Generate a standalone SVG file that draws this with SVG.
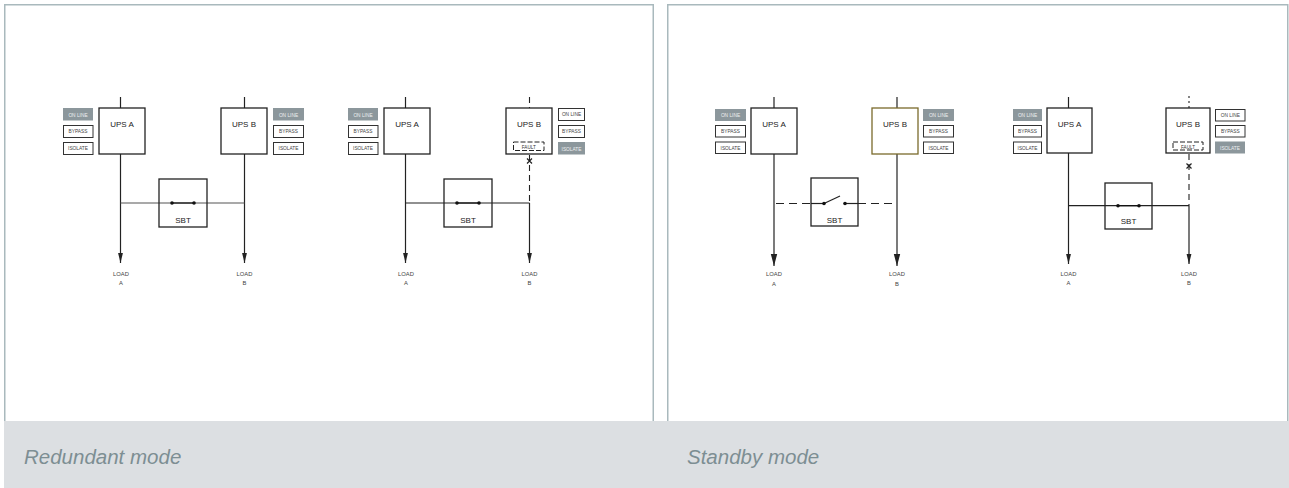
<svg xmlns="http://www.w3.org/2000/svg" width="1289" height="488" viewBox="0 0 1289 488">
<style>
.panel{fill:#fff;stroke:#a9b9bd;stroke-width:1.5}
.band{fill:#dcdfe2}
.cap{font-family:"Liberation Sans",Arial,sans-serif;font-style:italic;font-size:20.5px;fill:#7d8e93}
.box{fill:none;stroke:#222;stroke-width:1.3}
.boxy{fill:none;stroke:#7a6a2c;stroke-width:1.3}
.btn{fill:#fff;stroke:#333;stroke-width:1}
.on{fill:#8c979c;stroke:none}
.t{font-family:"Liberation Sans",Arial,sans-serif;fill:#222;text-anchor:middle}
.lbl{font-size:8px}
.bt{font-size:4.8px;fill:#444}
.btw{font-size:4.8px;fill:#eef0f1}
.ld{font-size:5.8px;fill:#444}
.ft{font-size:4.6px;fill:#333}
.w{stroke:#222;stroke-width:1.2;fill:none}
.wg{stroke:#555;stroke-width:1.2;fill:none}
.d{stroke:#222;stroke-width:1.1;fill:none;stroke-dasharray:6 4}
.dt{stroke:#222;stroke-width:1.1;fill:none;stroke-dasharray:2 3}
.fb{fill:none;stroke:#222;stroke-width:1;stroke-dasharray:5 2}
.sw{stroke:#111;stroke-width:1.2}
.dot{fill:#111}
</style>
<defs>
<marker id="arr" markerUnits="userSpaceOnUse" markerWidth="10" markerHeight="6" viewBox="0 0 10 6" refX="10" refY="3" orient="auto"><path d="M0,0.6 L10,3 L0,5.4 z" fill="#222"/></marker>
<marker id="arrL" markerUnits="userSpaceOnUse" markerWidth="12" markerHeight="8" viewBox="0 0 12 8" refX="12" refY="4" orient="auto"><path d="M0,0.8 L12,4 L0,7.2 z" fill="#222"/></marker>
</defs>

<g id="panels">
<rect class="panel" x="4.75" y="4.75" width="648.5" height="430"/>
<rect class="panel" x="667.75" y="4.75" width="620" height="430"/>
<rect class="band" x="4" y="421" width="1285" height="67"/>
<text class="cap" x="24" y="464">Redundant mode</text>
<text class="cap" x="687" y="464">Standby mode</text>
</g>

<g id="connectors">
<line class="w" x1="120.5" y1="97" x2="120.5" y2="108"/>
<line class="w" x1="120.5" y1="154" x2="120.5" y2="263" marker-end="url(#arr)"/>
<line class="w" x1="244.5" y1="97" x2="244.5" y2="108"/>
<line class="w" x1="244.5" y1="154" x2="244.5" y2="263" marker-end="url(#arr)"/>
<line class="wg" x1="120.5" y1="203" x2="244.5" y2="203"/>
<line class="w" x1="405.5" y1="97" x2="405.5" y2="108"/>
<line class="w" x1="405.5" y1="154" x2="405.5" y2="263" marker-end="url(#arr)"/>
<line class="d" x1="529.5" y1="97" x2="529.5" y2="108"/>
<line class="d" x1="529.5" y1="155" x2="529.5" y2="203"/>
<line class="w" x1="529.5" y1="203" x2="529.5" y2="263" marker-end="url(#arr)"/>
<line class="w" x1="405.5" y1="203" x2="529.5" y2="203"/>
<path class="w" d="M527,158.5 L532,163.5 M532,158.5 L527,163.5"/>
<line class="w" x1="774" y1="97" x2="774" y2="108"/>
<line class="w" x1="774" y1="154" x2="774" y2="266" marker-end="url(#arrL)"/>
<line class="w" x1="897" y1="97" x2="897" y2="108"/>
<line class="w" x1="897" y1="154" x2="897" y2="266" marker-end="url(#arrL)"/>
<line class="d" x1="776" y1="203.5" x2="811" y2="203.5" style="stroke-dasharray:8 5"/>
<line class="w" x1="811" y1="203.5" x2="824" y2="203.5"/>
<line class="w" x1="845" y1="203.5" x2="858" y2="203.5"/>
<line class="d" x1="858" y1="203.5" x2="895" y2="203.5" style="stroke-dasharray:8 5"/>
<line class="w" x1="1068.5" y1="97" x2="1068.5" y2="108"/>
<line class="w" x1="1068.5" y1="153" x2="1068.5" y2="264" marker-end="url(#arr)"/>
<line class="dt" x1="1189" y1="96" x2="1189" y2="108"/>
<line class="d" x1="1189" y1="154" x2="1189" y2="206"/>
<line class="w" x1="1189" y1="206" x2="1189" y2="264" marker-end="url(#arr)"/>
<line class="w" x1="1068.5" y1="205.7" x2="1189" y2="205.7"/>
<path class="w" d="M1186.5,163.5 L1191.5,168.5 M1191.5,163.5 L1186.5,168.5"/>
</g>

<g id="d1-ups-a">
<rect class="box" x="99" y="108" width="46" height="46"/>
<text class="t lbl" x="122" y="127">UPS A</text>
</g>
<g id="d1-ups-a-status">
<rect class="on" x="63" y="108" width="30" height="12.5"/><text class="t btw" x="78" y="116.5">ON LINE</text>
<rect class="btn" x="63.5" y="125.5" width="29.5" height="12"/><text class="t bt" x="78" y="133.3">BYPASS</text>
<rect class="btn" x="63.5" y="142.5" width="29.5" height="12"/><text class="t bt" x="78" y="150.3">ISOLATE</text>
</g>
<g id="d1-ups-b">
<rect class="box" x="221" y="108" width="46" height="46"/>
<text class="t lbl" x="244" y="127">UPS B</text>
</g>
<g id="d1-ups-b-status">
<rect class="on" x="273" y="108" width="31" height="12.5"/><text class="t btw" x="288.5" y="116.5">ON LINE</text>
<rect class="btn" x="273.5" y="125.5" width="30" height="12"/><text class="t bt" x="288.5" y="133.3">BYPASS</text>
<rect class="btn" x="273.5" y="142.5" width="30" height="12"/><text class="t bt" x="288.5" y="150.3">ISOLATE</text>
</g>
<g id="d1-sbt">
<rect class="box" x="159" y="179" width="48" height="48"/>
<line class="sw" x1="172" y1="203" x2="194" y2="203"/>
<circle class="dot" cx="172" cy="203" r="1.8"/><circle class="dot" cx="194" cy="203" r="1.8"/>
<text class="t lbl" x="183" y="223">SBT</text>
</g>
<g id="d1-load-a"><text class="t ld" x="121" y="275.5">LOAD</text><text class="t ld" x="121" y="285">A</text></g>
<g id="d1-load-b"><text class="t ld" x="244.5" y="275.5">LOAD</text><text class="t ld" x="244.5" y="285">B</text></g>

<g id="d2-ups-a">
<rect class="box" x="384" y="108" width="46" height="46"/>
<text class="t lbl" x="407" y="127">UPS A</text>
</g>
<g id="d2-ups-a-status">
<rect class="on" x="348" y="108" width="30" height="12.5"/><text class="t btw" x="363" y="116.5">ON LINE</text>
<rect class="btn" x="348.5" y="125.5" width="29.5" height="12"/><text class="t bt" x="363" y="133.3">BYPASS</text>
<rect class="btn" x="348.5" y="142.5" width="29.5" height="12"/><text class="t bt" x="363" y="150.3">ISOLATE</text>
</g>
<g id="d2-ups-b">
<rect class="box" x="506" y="108" width="46" height="46"/>
<text class="t lbl" x="529" y="127">UPS B</text>
<rect class="fb" x="513.5" y="142" width="30.5" height="8.5"/>
<text class="t ft" x="528.8" y="148.8">FAULT</text>
</g>
<g id="d2-ups-b-status">
<rect class="btn" x="558.5" y="108.5" width="26" height="12"/><text class="t bt" x="571.5" y="116.3">ON LINE</text>
<rect class="btn" x="558.5" y="125.5" width="26" height="12"/><text class="t bt" x="571.5" y="133.3">BYPASS</text>
<rect class="on" x="558" y="142" width="27" height="12.5"/><text class="t btw" x="571.5" y="150.5">ISOLATE</text>
</g>
<g id="d2-sbt">
<rect class="box" x="444" y="179" width="48" height="48"/>
<line class="sw" x1="457" y1="203" x2="479" y2="203"/>
<circle class="dot" cx="457" cy="203" r="1.8"/><circle class="dot" cx="479" cy="203" r="1.8"/>
<text class="t lbl" x="468" y="223">SBT</text>
</g>
<g id="d2-load-a"><text class="t ld" x="406" y="275.5">LOAD</text><text class="t ld" x="406" y="285">A</text></g>
<g id="d2-load-b"><text class="t ld" x="529.5" y="275.5">LOAD</text><text class="t ld" x="529.5" y="285">B</text></g>

<g id="d3-ups-a">
<rect class="box" x="751" y="108" width="46" height="46"/>
<text class="t lbl" x="774" y="127">UPS A</text>
</g>
<g id="d3-ups-a-status">
<rect class="on" x="715" y="109" width="31" height="12"/><text class="t btw" x="730.5" y="116.8">ON LINE</text>
<rect class="btn" x="715.5" y="125.5" width="30" height="11.5"/><text class="t bt" x="730.5" y="133">BYPASS</text>
<rect class="btn" x="715.5" y="142" width="30" height="11.5"/><text class="t bt" x="730.5" y="149.5">ISOLATE</text>
</g>
<g id="d3-ups-b">
<rect class="boxy" x="872" y="108" width="46" height="46"/>
<text class="t lbl" x="895" y="127">UPS B</text>
</g>
<g id="d3-ups-b-status">
<rect class="on" x="923" y="109" width="31" height="12"/><text class="t btw" x="938.5" y="116.8">ON LINE</text>
<rect class="btn" x="923.5" y="125.5" width="30" height="11.5"/><text class="t bt" x="938.5" y="133">BYPASS</text>
<rect class="btn" x="923.5" y="142" width="30" height="11.5"/><text class="t bt" x="938.5" y="149.5">ISOLATE</text>
</g>
<g id="d3-sbt">
<rect class="box" x="811" y="178" width="47" height="48"/>
<line class="w" x1="824" y1="203.5" x2="840" y2="196"/>
<circle class="dot" cx="824" cy="203.5" r="1.8"/><circle class="dot" cx="845" cy="203.5" r="1.8"/>
<text class="t lbl" x="834.5" y="222.5">SBT</text>
</g>
<g id="d3-load-a"><text class="t ld" x="774" y="276">LOAD</text><text class="t ld" x="774" y="285.5">A</text></g>
<g id="d3-load-b"><text class="t ld" x="897" y="276">LOAD</text><text class="t ld" x="897" y="285.5">B</text></g>

<g id="d4-ups-a">
<rect class="box" x="1047" y="108" width="45" height="45"/>
<text class="t lbl" x="1069.5" y="127">UPS A</text>
</g>
<g id="d4-ups-a-status">
<rect class="on" x="1013" y="109" width="29" height="12"/><text class="t btw" x="1027.5" y="116.8">ON LINE</text>
<rect class="btn" x="1013.5" y="125.5" width="28" height="11.5"/><text class="t bt" x="1027.5" y="133">BYPASS</text>
<rect class="btn" x="1013.5" y="142" width="28" height="11.5"/><text class="t bt" x="1027.5" y="149.5">ISOLATE</text>
</g>
<g id="d4-ups-b">
<rect class="box" x="1166" y="108" width="44" height="45"/>
<text class="t lbl" x="1188" y="127">UPS B</text>
<rect class="fb" x="1173" y="142" width="30" height="8"/>
<text class="t ft" x="1188" y="148.5">FAULT</text>
</g>
<g id="d4-ups-b-status">
<rect class="btn" x="1215.5" y="109.5" width="29.5" height="11.5"/><text class="t bt" x="1230.3" y="117">ON LINE</text>
<rect class="btn" x="1215.5" y="125.5" width="29.5" height="11.5"/><text class="t bt" x="1230.3" y="133">BYPASS</text>
<rect class="on" x="1215" y="141.5" width="30" height="12"/><text class="t btw" x="1230" y="149.5">ISOLATE</text>
</g>
<g id="d4-sbt">
<rect class="box" x="1105" y="183" width="47" height="46"/>
<line class="sw" x1="1118" y1="205.7" x2="1139" y2="205.7"/>
<circle class="dot" cx="1118" cy="205.7" r="1.8"/><circle class="dot" cx="1139" cy="205.7" r="1.8"/>
<text class="t lbl" x="1128.5" y="223.5">SBT</text>
</g>
<g id="d4-load-a"><text class="t ld" x="1068.5" y="275.5">LOAD</text><text class="t ld" x="1068.5" y="285">A</text></g>
<g id="d4-load-b"><text class="t ld" x="1189" y="275.5">LOAD</text><text class="t ld" x="1189" y="285">B</text></g>
</svg>
